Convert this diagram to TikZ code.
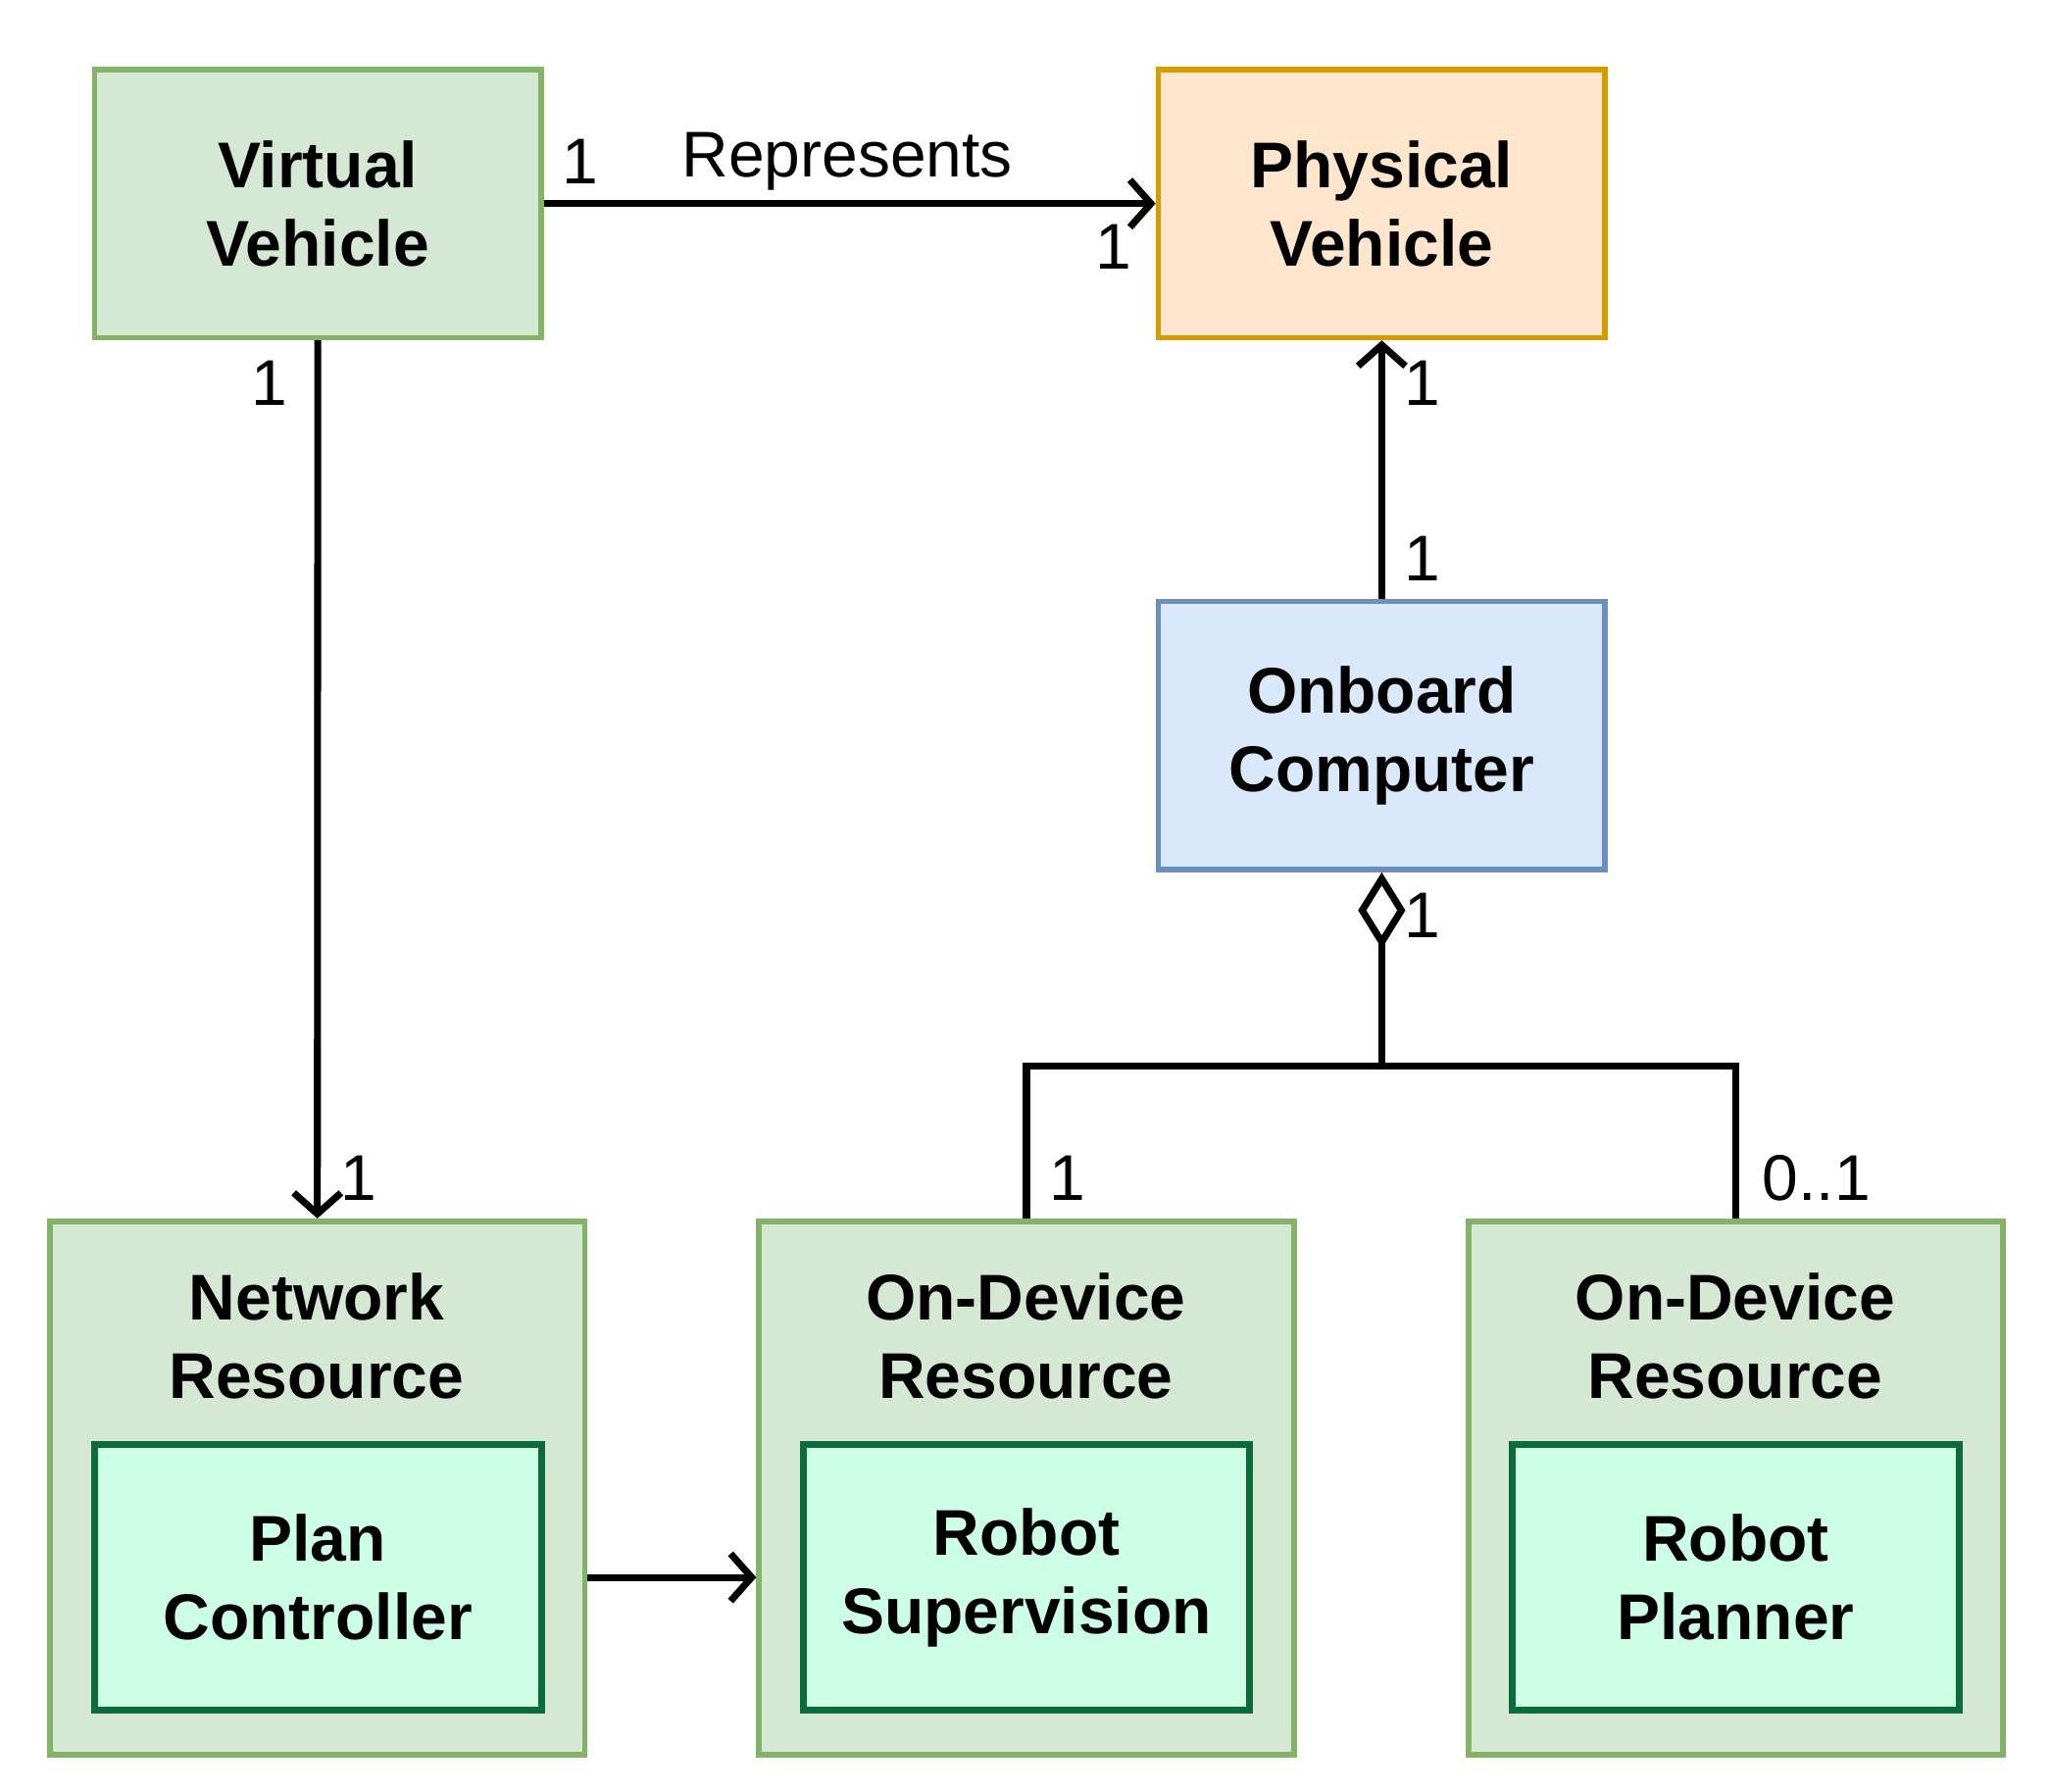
\documentclass[tikz,border=0pt]{standalone}
\usepackage{fontspec}
\setmainfont{Liberation Sans}
\usetikzlibrary{arrows.meta, positioning}
\definecolor{grnfill}{HTML}{D5E8D4}
\definecolor{grnline}{HTML}{82B366}
\definecolor{orgfill}{HTML}{FFE6CC}
\definecolor{orgline}{HTML}{D79B00}
\definecolor{blufill}{HTML}{DAE8FC}
\definecolor{bluline}{HTML}{6C8EBF}
\definecolor{mintfill}{HTML}{CCFFE6}
\definecolor{mintline}{HTML}{0B6B3A}

\tikzset{
  box/.style={draw, line width=1.2pt, minimum width=3.4cm, minimum height=2.04cm,
    align=center, font=\fontsize{14}{17}\selectfont\bfseries},
  green box/.style={box, fill=grnfill, draw=grnline},
  outer/.style={draw=grnline, fill=grnfill, line width=1.2pt,
    minimum width=4.07cm, minimum height=4.06cm},
  inner/.style={box, fill=mintfill, draw=mintline, line width=1.5pt, minimum height=2.02cm},
  title/.style={align=center, font=\fontsize{14}{17}\selectfont\bfseries},
  conn/.style={line width=1.5pt},
  mult/.style={font=\fontsize{14}{17}\selectfont}
}

\begin{document}
\begin{tikzpicture}[x=0.01cm, y=-0.01cm]
\useasboundingbox (0,0) rectangle (1560,1364);

% upper classes
\node[green box] (vv) at (242,155) {Virtual\\Vehicle};
\node[box, fill=orgfill, draw=orgline] (pv) at (1052,155) {Physical\\Vehicle};
\node[box, fill=blufill, draw=bluline] (oc) at (1052,560) {Onboard\\Computer};

% resources
\node[outer] (nr) at (241.5,1133) {};
\node[title] at (241,1017) {Network\\Resource};
\node[inner] (pc) at (242,1201) {Plan\\Controller};

\node[outer] (od1) at (781.5,1133) {};
\node[title] at (781,1017) {On-Device\\Resource};
\node[inner] (rs) at (781.5,1201) {Robot\\Supervision};

\node[outer] (od2) at (1321.5,1133) {};
\node[title] at (1321,1017) {On-Device\\Resource};
\node[inner] (rp) at (1321.5,1201) {Robot\\Planner};

% connectors
\draw[conn, -{Straight Barb[length=0.16cm, width=0.36cm]}] (vv) -- (pv);
\node[mult] at (645,123) {Represents};
\node[mult] at (442,123) {1};
\node[mult] at (848,188) {1};

\draw[conn, -{Straight Barb[length=0.16cm, width=0.36cm]}] (vv) -- (nr);
\node[mult] at (205,292) {1};
\node[mult] at (273,897) {1};

\draw[conn, -{Straight Barb[length=0.16cm, width=0.36cm]}] (oc) -- (pv);
\node[mult] at (1083,292) {1};
\node[mult] at (1083,425) {1};

\coordinate (split) at (1052,812);
\draw[conn, {Diamond[open, length=0.58cm, width=0.36cm]}-] (oc.south) -- (split);
\draw[conn] (od1.north) |- (split) -| (od2.north);
\node[mult] at (1083,697) {1};
\node[mult] at (813,897) {1};
\node[mult] at (1383,897) {0..1};

\draw[conn, -{Straight Barb[length=0.16cm, width=0.36cm]}] (nr.east |- pc.center) -- (od1.west |- rs.center);
\end{tikzpicture}
\end{document}
